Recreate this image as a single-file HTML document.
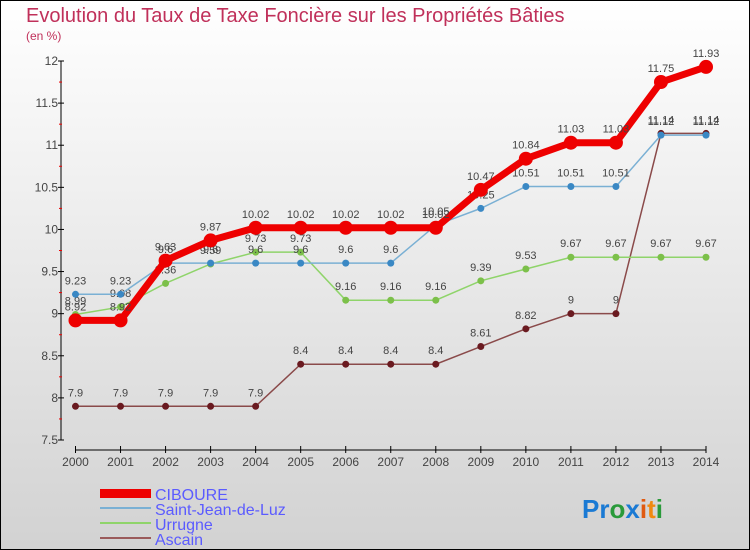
<!DOCTYPE html>
<html><head><meta charset="utf-8"><style>
body{margin:0}
#wrap{width:750px;height:550px;position:relative;box-sizing:border-box;border:1px solid #000;background:linear-gradient(#ffffff,#d2d2d2);font-family:"Liberation Sans",sans-serif;overflow:hidden}
</style></head><body>
<div id="wrap">
<svg id="svg" width="750" height="550" style="position:absolute;left:-1px;top:-1px">
<text x="26" y="22" font-size="20" fill="#c0305a">Evolution du Taux de Taxe Foncière sur les Propriétés Bâties</text>
<text x="26" y="40" font-size="12" fill="#c0305a">(en %)</text>
<g id="axes"></g><g id="series"></g>
<g>
<rect x="100" y="489" width="51" height="9" fill="#e00"/>
<text x="155" y="500" font-size="16" fill="#5b5bff">CIBOURE</text>
<rect x="100" y="507" width="51" height="2" fill="#7ab0d4"/>
<text x="155" y="515" font-size="16" fill="#5b5bff">Saint-Jean-de-Luz</text>
<rect x="100" y="522" width="51" height="2" fill="#8fd46a"/>
<text x="155" y="530" font-size="16" fill="#5b5bff">Urrugne</text>
<rect x="100" y="537" width="51" height="2" fill="#9a5a5a"/>
<text x="155" y="545" font-size="16" fill="#5b5bff">Ascain</text>
</g>
<text x="582" y="518" font-size="26" font-weight="bold"><tspan fill="#1a7ad4">Pr</tspan><tspan fill="#2a9a3a">o</tspan><tspan fill="#1a7ad4">x</tspan><tspan fill="#e05a10">i</tspan><tspan fill="#f08a10">t</tspan><tspan fill="#2a9a3a">i</tspan></text>
</svg>
</div>
<script>
const years=[2000,2001,2002,2003,2004,2005,2006,2007,2008,2009,2010,2011,2012,2013,2014];
const yTicks=[7.5,8,8.5,9,9.5,10,10.5,11,11.5,12];
const ciboure=[8.92,8.92,9.63,9.87,10.02,10.02,10.02,10.02,10.02,10.47,10.84,11.03,11.03,11.75,11.93];
const sjl=[9.23,9.23,9.6,9.6,9.6,9.6,9.6,9.6,10.05,10.25,10.51,10.51,10.51,11.12,11.12];
const urrugne=[8.99,9.08,9.36,9.59,9.73,9.73,9.16,9.16,9.16,9.39,9.53,9.67,9.67,9.67,9.67];
const ascain=[7.9,7.9,7.9,7.9,7.9,8.4,8.4,8.4,8.4,8.61,8.82,9,9,11.14,11.14];
const NS="http://www.w3.org/2000/svg";
const X=i=>75.5+i*(706-75.5)/(years.length-1);
const Y=v=>440-(v-7.5)*(440-61)/4.5;
function mk(t,a,p){const e=document.createElementNS(NS,t);for(const k in a)e.setAttribute(k,a[k]);p.appendChild(e);return e;}
const ax=document.getElementById('axes');
let l=mk('line',{x1:61,y1:Y(12),x2:61,y2:440,stroke:'#000'},ax);


l=mk('line',{x1:X(0),y1:450,x2:X(14),y2:450,stroke:'#000'},ax);


yTicks.forEach((v,i)=>{
 mk('line',{x1:58,x2:64,y1:Y(v),y2:Y(v),stroke:'#000'},ax);
 if(i<yTicks.length-1)mk('line',{x1:59,x2:62,y1:Y(v+0.25),y2:Y(v+0.25),stroke:'#e00'},ax);
 const t=mk('text',{x:58,y:Y(v)+4,'font-size':12,'text-anchor':'end',fill:'#444'},ax);
 t.textContent=String(v);
 
 
});
years.forEach((yr,i)=>{
 mk('line',{x1:X(i),x2:X(i),y1:446,y2:453,stroke:'#000'},ax);
 const t=mk('text',{x:X(i),y:466,'font-size':12,'text-anchor':'middle',fill:'#444'},ax);
 t.textContent=yr;
 
 
});
const sg=document.getElementById('series');
function draw(vals,name,col,dot,w,r){
 const g=mk('g',{},sg);
 
 
 const p=mk('polyline',{points:vals.map((v,i)=>X(i)+','+Y(v)).join(' '),fill:'none',stroke:col,'stroke-width':w},g);
 
 
 vals.forEach((v,i)=>{
  const c=mk('circle',{cx:X(i),cy:Y(v),r:r,fill:dot},g);
  
  
  const t=mk('text',{x:X(i),y:Y(v)-10,'font-size':11,'text-anchor':'middle',fill:'#444'},g);
  t.textContent=String(v);
  
  
 });
}
draw(ascain,'ascain','#8a4a4a','#6a1a20',1.5,3.5);
draw(urrugne,'urrugne','#8fd46a','#7cc04a',1.5,3.5);
draw(sjl,'sjl','#7ab0d4','#3a88c4',1.5,3.5);
draw(ciboure,'ciboure','#e00','#e00',7,7);
</script>
</body></html>
